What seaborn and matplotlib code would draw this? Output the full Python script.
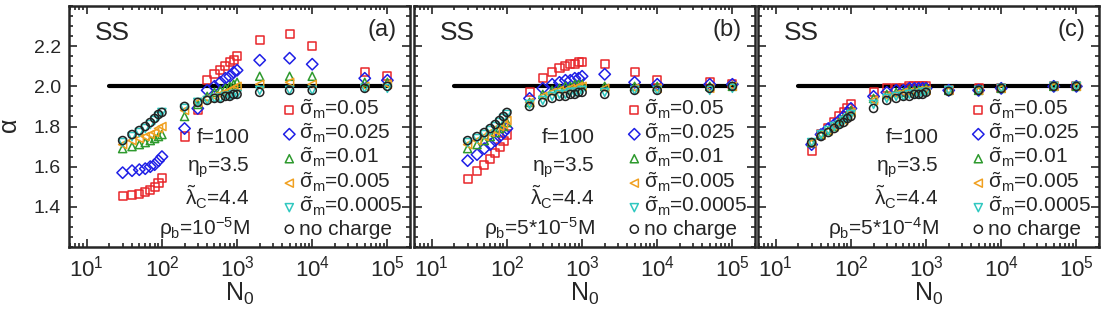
import numpy as np
import pandas as pd
import matplotlib
matplotlib.use("Agg")
import matplotlib.pyplot as plt
import seaborn as sns
from matplotlib.ticker import MultipleLocator, LogLocator, NullFormatter, FormatStrFormatter

# chain lengths
N0 = [30, 40, 50, 60, 70, 80, 90, 100, 200, 300, 400, 500, 600, 700, 800, 900, 1000,
      2000, 5000, 10000, 50000, 100000]

# panel (a), rho_b = 1e-5 M
a_005 = [1.455, 1.46, 1.465, 1.475, 1.485, 1.50, 1.52, 1.545, 1.75, 1.88,
         2.03, 2.06, 2.08, 2.10, 2.12, 2.13, 2.15, 2.23, 2.26, 2.20, 2.07, 2.05]
a_0025 = [1.57, 1.58, 1.585, 1.59, 1.60, 1.61, 1.63, 1.65, 1.79, 1.89,
          1.98, 2.00, 2.02, 2.04, 2.05, 2.07, 2.08, 2.13, 2.14, 2.11, 2.04, 2.03]
a_001 = [1.69, 1.70, 1.71, 1.72, 1.73, 1.74, 1.75, 1.76, 1.85, 1.91,
         1.95, 1.97, 1.98, 1.99, 2.00, 2.01, 2.02, 2.05, 2.05, 2.05, 2.02, 2.02]
a_0005 = [1.71, 1.73, 1.74, 1.75, 1.76, 1.77, 1.79, 1.80, 1.88, 1.92,
          1.94, 1.95, 1.96, 1.97, 1.98, 1.99, 2.00, 2.01, 2.02, 2.01, 2.00, 2.01]
a_00005 = [1.72, 1.75, 1.77, 1.79, 1.81, 1.83, 1.85, 1.87, 1.89, 1.92,
           1.93, 1.94, 1.94, 1.95, 1.95, 1.96, 1.96, 1.98, 1.98, 1.98, 1.99, 1.99]
a_none = [1.73, 1.76, 1.78, 1.80, 1.82, 1.84, 1.86, 1.87, 1.90, 1.92,
          1.93, 1.94, 1.94, 1.95, 1.95, 1.96, 1.96, 1.97, 1.98, 1.98, 1.99, 2.00]

# panel (b), rho_b = 5e-5 M
b_005 = [1.54, 1.58, 1.61, 1.64, 1.67, 1.70, 1.73, 1.76, 1.97, 2.04,
         2.07, 2.09, 2.10, 2.11, 2.11, 2.12, 2.12, 2.11, 2.07, 2.03, 2.02, 2.01]
b_0025 = [1.63, 1.66, 1.69, 1.71, 1.73, 1.75, 1.77, 1.79, 1.94, 1.99,
          2.01, 2.02, 2.03, 2.03, 2.04, 2.04, 2.05, 2.06, 2.02, 2.01, 2.01, 2.01]
b_001 = [1.69, 1.71, 1.73, 1.75, 1.77, 1.79, 1.80, 1.82, 1.92, 1.96,
         1.98, 1.99, 2.00, 2.00, 2.01, 2.01, 2.01, 2.00, 2.00, 2.00, 2.00, 2.00]
b_0005 = [1.71, 1.73, 1.75, 1.77, 1.78, 1.80, 1.81, 1.83, 1.92, 1.95,
          1.97, 1.98, 1.98, 1.99, 1.99, 2.00, 2.00, 1.99, 1.99, 1.99, 1.99, 2.00]
b_00005 = [1.72, 1.74, 1.76, 1.78, 1.80, 1.82, 1.84, 1.86, 1.91, 1.93,
           1.95, 1.96, 1.96, 1.97, 1.97, 1.97, 1.98, 1.97, 1.98, 1.98, 1.98, 1.99]
b_none = [1.73, 1.75, 1.77, 1.79, 1.81, 1.83, 1.85, 1.87, 1.90, 1.92,
          1.94, 1.95, 1.95, 1.96, 1.96, 1.97, 1.97, 1.96, 1.98, 1.98, 1.99, 2.00]

# panel (c), rho_b = 5e-4 M
c_005 = [1.68, 1.76, 1.79, 1.82, 1.85, 1.87, 1.89, 1.91, 1.97, 1.99,
         1.99, 1.99, 2.00, 2.00, 2.00, 2.00, 2.00, 1.98, 1.99, 1.99, 2.00, 2.00]
c_0025 = [1.71, 1.76, 1.79, 1.81, 1.83, 1.85, 1.87, 1.89, 1.95, 1.97,
          1.98, 1.98, 1.99, 1.99, 1.99, 1.99, 1.99, 1.98, 1.98, 1.99, 2.00, 2.00]
c_001 = [1.72, 1.76, 1.78, 1.80, 1.82, 1.84, 1.86, 1.88, 1.94, 1.96,
         1.97, 1.97, 1.98, 1.98, 1.98, 1.98, 1.99, 1.98, 1.98, 1.99, 2.00, 2.00]
c_0005 = [1.72, 1.76, 1.78, 1.80, 1.82, 1.83, 1.85, 1.87, 1.93, 1.95,
          1.96, 1.97, 1.97, 1.97, 1.98, 1.98, 1.98, 1.98, 1.98, 1.99, 2.00, 2.00]
c_00005 = [1.72, 1.76, 1.78, 1.80, 1.81, 1.83, 1.84, 1.86, 1.91, 1.94,
           1.95, 1.95, 1.96, 1.96, 1.96, 1.97, 1.97, 1.98, 1.98, 1.99, 2.00, 2.00]
c_none = [1.72, 1.75, 1.77, 1.79, 1.81, 1.82, 1.84, 1.85, 1.89, 1.93,
          1.94, 1.95, 1.95, 1.96, 1.96, 1.96, 1.97, 1.975, 1.98, 1.99, 2.00, 2.00]

labels = [r"$\tilde{\sigma}_m$=0.05", r"$\tilde{\sigma}_m$=0.025", r"$\tilde{\sigma}_m$=0.01",
          r"$\tilde{\sigma}_m$=0.005", r"$\tilde{\sigma}_m$=0.0005", "no charge"]
colors = ["#e8262a", "#1f1fe6", "#2e9a2e", "#f0a020", "#30c8c0", "#222222"]
markers = ["s", "D", "^", "<", "v", "o"]

panels = [
    ("(a)", r"$\rho_b$=10$^{-5}$M", [a_005, a_0025, a_001, a_0005, a_00005, a_none]),
    ("(b)", r"$\rho_b$=5*10$^{-5}$M", [b_005, b_0025, b_001, b_0005, b_00005, b_none]),
    ("(c)", r"$\rho_b$=5*10$^{-4}$M", [c_005, c_0025, c_001, c_0005, c_00005, c_none]),
]

sns.set_style("ticks")
plt.rcParams["font.family"] = ["Liberation Sans", "DejaVu Sans"]
plt.rcParams["mathtext.fontset"] = "custom"
plt.rcParams["mathtext.rm"] = "Liberation Sans"
plt.rcParams["mathtext.it"] = "Liberation Sans"
plt.rcParams["mathtext.bf"] = "Liberation Sans:bold"

fig = plt.figure(figsize=(11.11, 3.16), dpi=100)
W, H = 1111, 316
lefts = [69, 414, 758]
pw = 341
bottom, top = 247, 6

for i, (tag, rho, series) in enumerate(panels):
    ax = fig.add_axes([lefts[i] / W, (H - bottom) / H, pw / W, (bottom - top) / H])
    ax.set_xscale("log")

    sns.lineplot(x=[20, 1e5], y=[2.0, 2.0], color="black", lw=3, ax=ax, legend=False)

    order = [5, 0, 1, 2, 3, 4]  # black circles underneath
    for k in order:
        df = pd.DataFrame({"N0": N0, "alpha": series[k]})
        sns.scatterplot(data=df, x="N0", y="alpha", marker=markers[k], s=34,
                        color=colors[k], facecolors="none", edgecolor=colors[k],
                        linewidth=1.1, ax=ax, label=labels[k], zorder=3 + k)
    h, l = ax.get_legend_handles_labels()
    hmap = dict(zip(l, h))
    ax.legend([hmap[lb] for lb in labels], labels, loc="lower right",
              bbox_to_anchor=(1.0, 0.0), frameon=False, fontsize=15,
              handlelength=0.6, handletextpad=0.15, labelspacing=0.06,
              borderaxespad=0.3, borderpad=0.1)

    ax.set_xlim(5.8, 2.0e5)
    ax.set_ylim(1.2, 2.4)
    ax.xaxis.set_minor_locator(LogLocator(base=10, subs=np.arange(2, 10), numticks=20))
    ax.xaxis.set_minor_formatter(NullFormatter())
    ax.set_xticks([1e1, 1e2, 1e3, 1e4, 1e5])
    ax.yaxis.set_minor_locator(MultipleLocator(0.05))
    ax.yaxis.set_major_formatter(FormatStrFormatter("%.1f"))
    ax.set_yticks([1.4, 1.6, 1.8, 2.0, 2.2])
    ax.tick_params(which="both", direction="in", top=True, right=True, width=1.2)
    ax.tick_params(axis="y", labelsize=14)
    ax.tick_params(axis="x", labelsize=16)
    ax.tick_params(which="major", length=6, pad=6)
    ax.tick_params(which="minor", length=3)
    for sp in ax.spines.values():
        sp.set_linewidth(1.8)
    if i > 0:
        ax.set_yticklabels([])
        ax.set_ylabel("")
    else:
        ax.set_ylabel(r"$\alpha$", fontsize=18, labelpad=8)
    ax.set_xlabel(r"N$_0$", fontsize=18, labelpad=0)

    ax.text(0.075, 0.89, "SS", transform=ax.transAxes, fontsize=19, va="center", ha="left")
    ax.text(0.96, 0.9, tag, transform=ax.transAxes, fontsize=17, va="center", ha="right")
    tx = 0.53
    ax.text(tx, 0.455, "f=100", transform=ax.transAxes, fontsize=15, ha="right", va="center")
    ax.text(tx, 0.33, r"$\eta_p$=3.5", transform=ax.transAxes, fontsize=15, ha="right", va="center")
    ax.text(tx, 0.205, r"$\tilde{\lambda}_C$=4.4", transform=ax.transAxes, fontsize=15, ha="right", va="center")
    ax.text(tx, 0.08, rho, transform=ax.transAxes, fontsize=15, ha="right", va="center")

fig.savefig("out.png", dpi=100)
